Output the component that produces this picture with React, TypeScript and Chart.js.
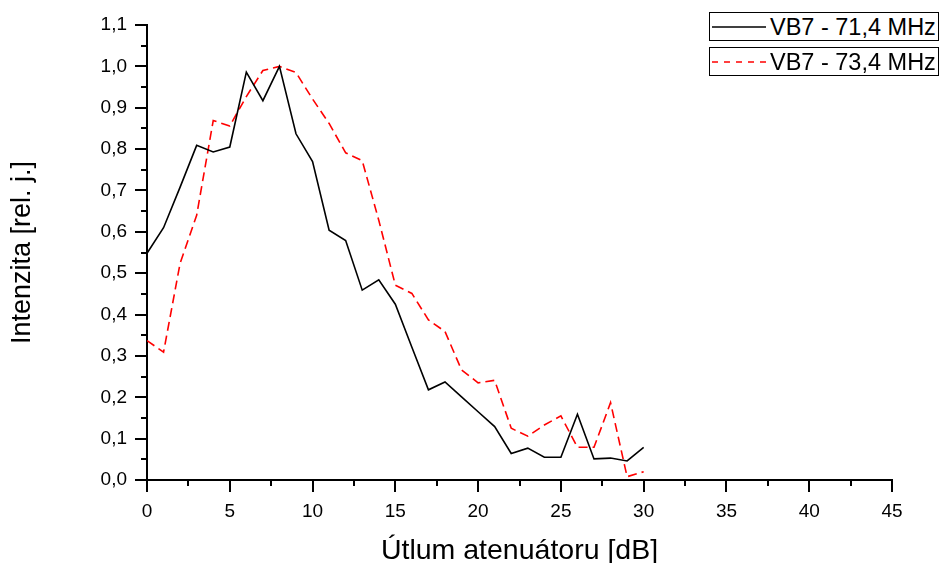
import React, { useEffect, useRef } from "react";
import { Chart, registerables } from "chart.js";

Chart.register(...registerables);

// Attenuation setting [dB]
const attenuation = [
  0, 1, 2, 3, 4, 5, 6, 7, 8, 9, 10, 11, 12, 13, 14, 15,
  16, 17, 18, 19, 20, 21, 22, 23, 24, 25, 26, 27, 28, 29, 30,
];

// Relative intensity, VB7 at 71.4 MHz
const vb7_714 = [
  0.548, 0.61, 0.708, 0.809, 0.793, 0.805, 0.986, 0.917, 1.0, 0.837, 0.77,
  0.604, 0.579, 0.459, 0.484, 0.425, 0.321, 0.218, 0.237, 0.201, 0.165,
  0.129, 0.064, 0.077, 0.055, 0.055, 0.159, 0.051, 0.053, 0.046, 0.079,
];

// Relative intensity, VB7 at 73.4 MHz
const vb7_734 = [
  0.337, 0.309, 0.524, 0.64, 0.869, 0.856, 0.927, 0.99, 1.0, 0.985, 0.921,
  0.862, 0.791, 0.772, 0.628, 0.471, 0.451, 0.387, 0.359, 0.266, 0.235,
  0.241, 0.125, 0.106, 0.133, 0.155, 0.079, 0.079, 0.187, 0.008, 0.02,
];

const seriesLabels = ["VB7 - 71,4 MHz", "VB7 - 73,4 MHz"];
const xTitle = "Útlum atenuátoru [dB]";
const yTitle = "Intenzita [rel. j.]";

const FONT = "'Liberation Sans', Arial, sans-serif";
const MAJOR = 12;
const MINOR = 6;

// Major + minor tick marks drawn outward from the left and bottom axes
const axisTicks = {
  id: "axisTicks",
  afterDraw(chart: any) {
    const { ctx, chartArea, scales } = chart;
    const xs = scales.x;
    const ys = scales.y;
    ctx.save();
    ctx.strokeStyle = "#000";
    ctx.lineWidth = 2;
    ctx.beginPath();
    for (let i = 0; i <= 22; i++) {
      const y = Math.round(ys.getPixelForValue(i * 0.05));
      const len = i % 2 === 0 ? MAJOR : MINOR;
      ctx.moveTo(chartArea.left - len, y);
      ctx.lineTo(chartArea.left, y);
    }
    for (let i = 0; i <= 18; i++) {
      const x = Math.round(xs.getPixelForValue(i * 2.5));
      const len = i % 2 === 0 ? MAJOR : MINOR;
      ctx.moveTo(x, chartArea.bottom);
      ctx.lineTo(x, chartArea.bottom + len);
    }
    ctx.stroke();
    ctx.restore();
  },
};

function LegendEntry({ top, dashed, color, text }: { top: number; dashed: boolean; color: string; text: string }) {
  return (
    <div
      style={{
        position: "absolute",
        left: 709,
        top,
        width: 228,
        height: 27,
        border: "1px solid #000",
        background: "#fff",
        boxSizing: "content-box",
      }}
    >
      <svg width={56} height={27} style={{ position: "absolute", left: 2, top: 0 }}>
        <line
          x1={0}
          y1={14}
          x2={54}
          y2={14}
          stroke={color}
          strokeWidth={1.5}
          strokeDasharray={dashed ? "6 6" : undefined}
        />
      </svg>
      <span
        style={{
          position: "absolute",
          left: 60,
          top: 0,
          lineHeight: "28px",
          fontFamily: FONT,
          fontSize: 23.5,
          color: "#000",
          whiteSpace: "nowrap",
        }}
      >
        {text}
      </span>
    </div>
  );
}

export default function App() {
  const canvasRef = useRef<HTMLCanvasElement | null>(null);

  useEffect(() => {
    document.body.style.margin = "0";
    const canvas = canvasRef.current;
    if (!canvas) return;

    const chart = new Chart(canvas, {
      type: "line",
      data: {
        datasets: [
          {
            label: seriesLabels[0],
            data: attenuation.map((x, i) => ({ x, y: vb7_714[i] })),
            borderColor: "#000000",
            borderWidth: 1.6,
            pointRadius: 0,
            tension: 0,
            fill: false,
          },
          {
            label: seriesLabels[1],
            data: attenuation.map((x, i) => ({ x, y: vb7_734[i] })),
            borderColor: "#ff0000",
            borderWidth: 1.6,
            borderDash: [9, 5],
            pointRadius: 0,
            tension: 0,
            fill: false,
          },
        ],
      },
      options: {
        animation: false,
        responsive: false,
        maintainAspectRatio: false,
        layout: { padding: { top: 25, right: 47, left: 0, bottom: 0 } },
        plugins: {
          legend: { display: false },
          tooltip: { enabled: false },
        },
        scales: {
          x: {
            type: "linear",
            min: 0,
            max: 45,
            grid: {
              display: true,
              drawOnChartArea: false,
              drawTicks: true,
              tickLength: MAJOR,
              color: "rgba(0,0,0,0)",
            },
            border: { display: true, color: "#000", width: 2 },
            ticks: {
              stepSize: 5,
              color: "#000",
              padding: 8,
              maxRotation: 0,
              autoSkip: false,
              font: { family: FONT, size: 19 },
            },
            title: {
              display: true,
              text: xTitle,
              color: "#000",
              padding: 0,
              font: { family: FONT, size: 28.5, lineHeight: 0.86 },
            },
            afterFit(scale: any) {
              scale.height = 83;
            },
          },
          y: {
            type: "linear",
            min: 0,
            max: 1.1,
            grid: {
              display: true,
              drawOnChartArea: false,
              drawTicks: true,
              tickLength: MAJOR,
              color: "rgba(0,0,0,0)",
            },
            border: { display: true, color: "#000", width: 2 },
            ticks: {
              stepSize: 0.1,
              color: "#000",
              padding: 8,
              autoSkip: false,
              font: { family: FONT, size: 19 },
              callback: (v: any) => Number(v).toFixed(1).replace(".", ","),
            },
            title: {
              display: true,
              text: yTitle,
              color: "#000",
              padding: { top: 6, bottom: 0 },
              font: { family: FONT, size: 27 },
            },
            afterFit(scale: any) {
              scale.width = 147;
            },
          },
        },
      },
      plugins: [axisTicks],
    });

    return () => chart.destroy();
  }, []);

  return (
    <div style={{ position: "relative", width: 939, height: 563, background: "#fff" }}>
      <canvas ref={canvasRef} width={939} height={563} style={{ display: "block" }} />
      <LegendEntry top={12} dashed={false} color="#000" text={seriesLabels[0]} />
      <LegendEntry top={47} dashed={true} color="#ff0000" text={seriesLabels[1]} />
    </div>
  );
}
